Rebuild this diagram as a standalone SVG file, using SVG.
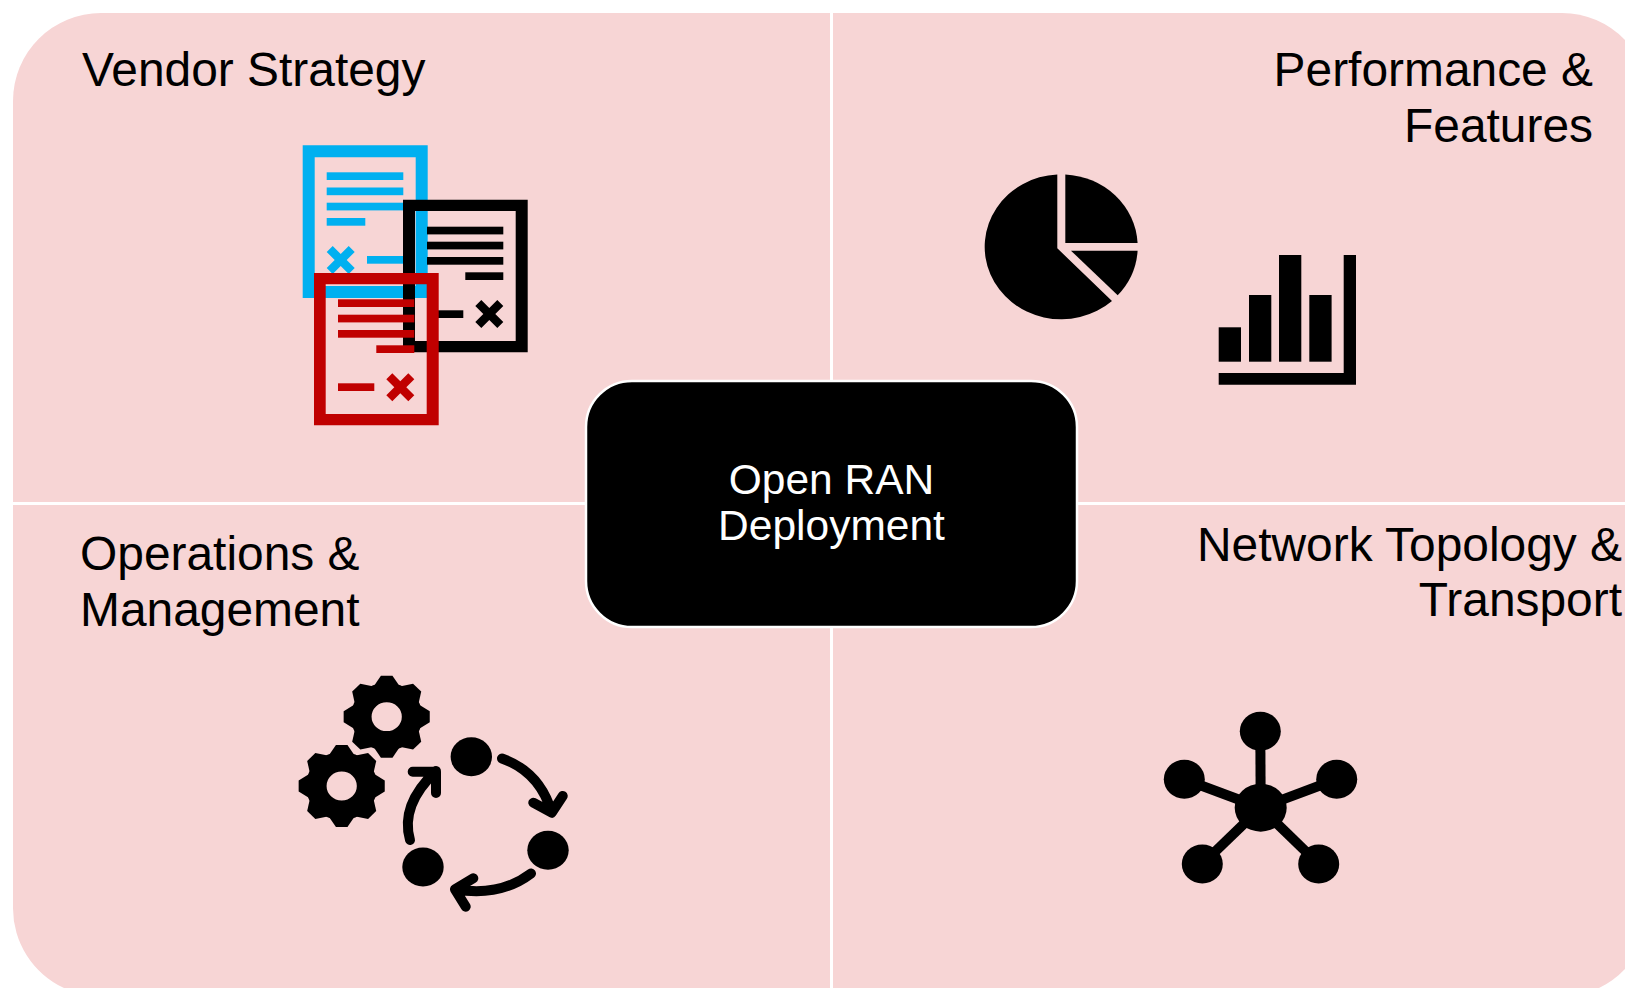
<svg xmlns="http://www.w3.org/2000/svg" width="1625" height="988" viewBox="0 0 1625 988">
<style>
text{font-family:"Liberation Sans",Arial,sans-serif;font-size:47.9px;fill:#000}
.c{font-size:42.5px;fill:#fff;text-anchor:middle}
.e{text-anchor:end}
.f{fill:#000}.b{fill:#00b0f0}.r{fill:#c00000}.q{fill:#f7d5d5}
.a{fill:none;stroke:#000;stroke-width:10;stroke-linecap:round;stroke-linejoin:round}
.l{stroke:#000;stroke-width:10}
</style>
<defs>
<polygon id="tooth" points="-12,-31 -5.5,-41 5.5,-41 12,-31"/>
<g id="gear" class="f">
<path fill-rule="evenodd" d="M-34,0A34,34 0 1 1 34,0A34,34 0 1 1 -34,0ZM-14.4,0A14.4,14.4 0 1 0 14.4,0A14.4,14.4 0 1 0 -14.4,0Z"/>
<use href="#tooth"/><use href="#tooth" transform="rotate(45)"/><use href="#tooth" transform="rotate(90)"/><use href="#tooth" transform="rotate(135)"/><use href="#tooth" transform="rotate(180)"/><use href="#tooth" transform="rotate(225)"/><use href="#tooth" transform="rotate(270)"/><use href="#tooth" transform="rotate(315)"/>
</g>
<polygon id="cross" points="-14,-8 -8,-14 0,-6 8,-14 14,-8 6,0 14,8 8,14 0,6 -8,14 -14,8 -6,0"/>
</defs>
<rect width="1625" height="988" fill="#fff"/>
<g id="quadrants">
<path class="q" d="M13,101A88,88 0 0 1 101,13H830V502H13Z"/>
<path class="q" d="M833,13H1562A88,88 0 0 1 1625,40V502H833Z"/>
<path class="q" d="M13,505H830V988H64A88,88 0 0 1 13,908Z"/>
<path class="q" d="M833,505H1625V969A88,88 0 0 1 1599,988H833Z"/>
</g>
<g id="vendor-strategy">
<text x="82" y="86">Vendor Strategy</text>
<g id="doc-blue" class="b">
<path fill-rule="evenodd" d="M302.7,145.3H427.7V298H302.7ZM314.7,157.3V286H415.7V157.3Z"/>
<rect x="326.7" y="172.3" width="76.6" height="7.7"/><rect x="326.7" y="187.5" width="76.6" height="7.7"/><rect x="326.7" y="202.7" width="76.6" height="7.7"/><rect x="326.7" y="218" width="38.6" height="7.7"/>
<rect x="367" y="256" width="36.3" height="7.7"/>
<use href="#cross" x="340.7" y="260"/>
</g>
<g id="doc-black" class="f">
<path fill-rule="evenodd" d="M403,199.7H527.7V352.3H403ZM415,211V341H515.7V211Z"/>
<rect x="427" y="226.7" width="76.3" height="7.7"/><rect x="427" y="241.7" width="76.3" height="7.7"/><rect x="427" y="257" width="76.3" height="7.7"/><rect x="465.3" y="272.3" width="38" height="7.7"/>
<rect x="427" y="310.3" width="36.3" height="7.7"/>
<use href="#cross" x="489.3" y="314"/>
</g>
<g id="doc-red" class="r">
<path fill-rule="evenodd" d="M314,273H438.7V425.3H314ZM325.7,284.3V414H426.7V284.3Z"/>
<rect x="338" y="299.3" width="76.3" height="7.7"/><rect x="338" y="314.7" width="76.3" height="7.7"/><rect x="338" y="330" width="76.3" height="7.7"/><rect x="376.3" y="345.3" width="38" height="7.7"/>
<rect x="338" y="383.3" width="36.3" height="7.7"/>
<use href="#cross" x="400.3" y="387.3"/>
</g>
</g>
<g id="performance-features">
<text class="e" x="1593" y="86">Performance &amp;</text>
<text class="e" x="1593" y="142">Features</text>
<g id="pie" class="f">
<path d="M1057.3,174.4V248.3L1112,301A76.5,72.5 0 1 1 1057.3,174.4Z"/>
<path d="M1065.3,174.4V243H1137.6A76.5,72.5 0 0 0 1065.3,174.4Z"/>
<path d="M1071,250.7H1137.6A76.5,72.5 0 0 1 1117.7,295.3Z"/>
</g>
<g id="bars" class="f">
<rect x="1218.7" y="327.3" width="22.3" height="34.4"/><rect x="1249" y="295" width="22.3" height="66.7"/><rect x="1279" y="255" width="22.3" height="106.7"/><rect x="1309.3" y="295" width="22.3" height="66.7"/>
<path d="M1343.7,255H1356V384.7H1218.7V373H1343.7Z"/>
</g>
</g>
<g id="operations-management">
<text x="80" y="570">Operations &amp;</text>
<text x="80" y="626">Management</text>
<use href="#gear" transform="translate(386.7,716.7) scale(1.05,1)"/>
<use href="#gear" transform="translate(341.7,786) scale(1.05,1)"/>
<g id="cycle">
<ellipse class="f" cx="471.3" cy="756.7" rx="20.7" ry="19.5"/>
<ellipse class="f" cx="548" cy="850.3" rx="20.7" ry="19.5"/>
<ellipse class="f" cx="423" cy="867" rx="20.7" ry="19.5"/>
<path class="a" d="M502,758.5Q540,772 551.7,812.7M562.7,796L551.7,812.7L533.3,802.7"/>
<path class="a" d="M531,873.5Q500,897 455,889.3M473.3,878.3L455,889.3L465.7,906.7"/>
<path class="a" d="M410,840Q400,805 436,771M412.7,771.7H436V793"/>
</g>
</g>
<g id="network-topology">
<text class="e" x="1622" y="561">Network Topology &amp;</text>
<text class="e" x="1622" y="616">Transport</text>
<g id="star">
<line class="l" x1="1260.7" y1="807.7" x2="1260.3" y2="731.7"/>
<line class="l" x1="1260.7" y1="807.7" x2="1184.3" y2="779.3"/>
<line class="l" x1="1260.7" y1="807.7" x2="1336.7" y2="779.3"/>
<line class="l" x1="1260.7" y1="807.7" x2="1202.3" y2="864"/>
<line class="l" x1="1260.7" y1="807.7" x2="1318.7" y2="864"/>
<g class="f">
<ellipse cx="1260.7" cy="807.7" rx="26" ry="24"/>
<ellipse cx="1260.3" cy="731.2" rx="20.5" ry="19.5"/>
<ellipse cx="1184.3" cy="779.3" rx="20.5" ry="19.5"/>
<ellipse cx="1336.7" cy="779.3" rx="20.5" ry="19.5"/>
<ellipse cx="1202.3" cy="864" rx="20.5" ry="19.5"/>
<ellipse cx="1318.7" cy="864" rx="20.5" ry="19.5"/>
</g>
</g>
</g>
<g id="center">
<rect x="586" y="381" width="491" height="246" rx="46" fill="#000" stroke="#fff" stroke-width="2.5"/>
<text class="c" x="831.5" y="494">Open RAN</text>
<text class="c" x="831.5" y="540">Deployment</text>
</g>
</svg>
